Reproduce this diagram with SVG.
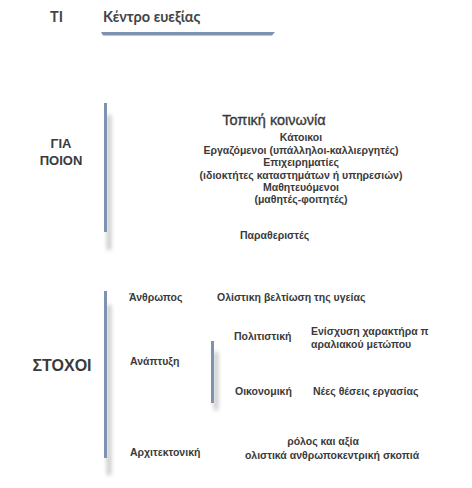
<svg xmlns="http://www.w3.org/2000/svg" width="472" height="488" viewBox="0 0 472 488">
<defs>
<filter id="sh" x="-200%" y="-20%" width="500%" height="140%"><feGaussianBlur stdDeviation="2"/></filter>
<style>
text{font-family:"Liberation Sans",Arial,sans-serif;fill:#3a3a3a;}
.b{font-weight:bold;font-size:10.5px;}
.c{text-anchor:middle;}
.h{font-size:14.5px;stroke:#3a3a3a;stroke-width:0.35px;}
.big{font-weight:bold;}
.t{font-family:Lato,"Liberation Sans",sans-serif;font-weight:bold;font-size:14.5px;fill:#444;}
.bar{fill:#7e93b2;}
.shadow{fill:#999;opacity:0.6;filter:url(#sh);}
</style>
</defs>
<g id="header">
<text class="t" x="50" y="22">TI</text>
<text class="t" x="103" y="22">Κέντρο ευεξίας</text>
<path d="M101,32 L275,32 L272,35.5 L103,35.5 Z" fill="#7e93b2"/>
</g>
<g id="connectors">
<rect class="shadow" x="107" y="115" width="4" height="135"/>
<rect class="bar" x="104" y="103" width="3" height="129"/>
<rect class="shadow" x="107" y="305" width="4" height="170"/>
<rect class="bar" x="104" y="291" width="3" height="167"/>
<rect class="shadow" x="214" y="352" width="4" height="58"/>
<rect class="bar" x="211" y="341" width="3" height="62"/>
</g>
<g id="gia-poion">
<text class="big c" x="61" y="148" font-size="13">ΓΙΑ</text>
<text class="big c" x="61" y="165" font-size="13">ΠΟΙΟΝ</text>
</g>
<g id="topiki">
<text class="h c" x="274" y="125">Τοπική κοινωνία</text>
<text class="b c" x="301" y="141">Κάτοικοι</text>
<text class="b c" x="301" y="154">Εργαζόμενοι (υπάλληλοι-καλλιεργητές)</text>
<text class="b c" x="301" y="166">Επιχειρηματίες</text>
<text class="b c" x="301" y="179">(ιδιοκτήτες καταστημάτων ή υπηρεσιών)</text>
<text class="b c" x="301" y="191">Μαθητευόμενοι</text>
<text class="b c" x="301" y="203">(μαθητές-φοιτητές)</text>
</g>
<g id="paratheristes">
<text class="b" x="240" y="239">Παραθεριστές</text>
</g>
<g id="stoxoi">
<text class="big c" x="62" y="371" font-size="16">ΣΤΟΧΟΙ</text>
</g>
<g id="anthropos">
<text class="b" x="129" y="301">Άνθρωπος</text>
<text class="b" x="217" y="301">Ολίστικη βελτίωση της υγείας</text>
</g>
<g id="anaptyxi">
<text class="b" x="130" y="365">Ανάπτυξη</text>
</g>
<g id="politistiki">
<text class="b" x="234" y="340">Πολιτιστική</text>
<text class="b" x="311" y="335">Ενίσχυση χαρακτήρα π</text>
<text class="b" x="311" y="348">αραλιακού μετώπου</text>
</g>
<g id="oikonomiki">
<text class="b" x="235" y="395">Οικονομική</text>
<text class="b" x="313" y="395">Νέες θέσεις εργασίας</text>
</g>
<g id="architektoniki">
<text class="b" x="130" y="456">Αρχιτεκτονική</text>
<text class="b c" x="323" y="445">ρόλος και αξία</text>
<text class="b c" x="332" y="459">ολιστικά ανθρωποκεντρική σκοπιά</text>
</g>
</svg>
